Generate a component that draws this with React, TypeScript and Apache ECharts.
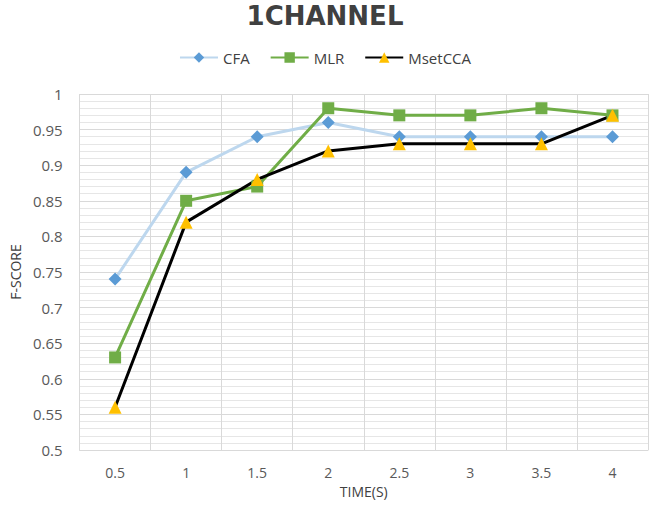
import React, { useEffect, useRef } from "react";
import * as echarts from "echarts";

const categories = ["0.5", "1", "1.5", "2", "2.5", "3", "3.5", "4"];
const cfa = [0.74, 0.89, 0.94, 0.96, 0.94, 0.94, 0.94, 0.94];
const mlr = [0.63, 0.85, 0.87, 0.98, 0.97, 0.97, 0.98, 0.97];
const msetcca = [0.56, 0.82, 0.88, 0.92, 0.93, 0.93, 0.93, 0.97];

export default function App() {
  const ref = useRef<HTMLDivElement>(null);
  useEffect(() => {
    if (!ref.current) return;
    const chart = echarts.init(ref.current, undefined, { renderer: "svg" });
    const font = "Open Sans";
    chart.setOption({
      animation: false,
      backgroundColor: "#fff",
      title: {
        text: "1CHANNEL",
        left: "center",
        top: -2,
        textStyle: { fontFamily: "DejaVu Sans", fontSize: 26, fontWeight: "bold", color: "#404040" },
      },
      legend: {
        top: 45,
        left: "center",
        itemWidth: 38,
        itemHeight: 13,
        itemGap: 20,
        textStyle: { fontFamily: font, fontSize: 15, color: "#404040" },
        data: ["CFA", "MLR", "MsetCCA"],
      },
      grid: { left: 68, right: 2, top: 94, bottom: 55 },
      xAxis: {
        type: "category",
        data: categories,
        boundaryGap: true,
        name: "TIME(S)",
        nameLocation: "middle",
        nameGap: 34,
        nameTextStyle: { fontFamily: font, fontSize: 14, color: "#404040" },
        axisLine: { show: true, lineStyle: { color: "#D9D9D9" } },
        axisTick: { show: false },
        axisLabel: { fontFamily: font, fontSize: 14, color: "#595959", margin: 15 },
        splitLine: { show: true, interval: 0, lineStyle: { color: "#D9D9D9" } },
      },
      yAxis: {
        type: "value",
        min: 0.5,
        max: 1,
        interval: 0.05,
        name: "F-SCORE",
        nameLocation: "middle",
        nameGap: 55,
        nameTextStyle: { fontFamily: font, fontSize: 14, color: "#404040" },
        axisLine: { show: false },
        axisTick: { show: false },
        axisLabel: { fontFamily: font, fontSize: 15, color: "#595959", margin: 17 },
        splitLine: { show: true, lineStyle: { color: "#D9D9D9" } },
        minorTick: { show: false, splitNumber: 5 },
        minorSplitLine: { show: true, lineStyle: { color: "#E6E6E6" } },
      },
      series: [
        {
          name: "CFA",
          type: "line",
          data: cfa,
          symbol: "diamond",
          symbolSize: 13,
          lineStyle: { color: "#BDD7EE", width: 3 },
          itemStyle: { color: "#5B9BD5" },
        },
        {
          name: "MLR",
          type: "line",
          data: mlr,
          symbol: "rect",
          symbolSize: 12,
          lineStyle: { color: "#70AD47", width: 3 },
          itemStyle: { color: "#70AD47" },
        },
        {
          name: "MsetCCA",
          type: "line",
          data: msetcca,
          symbol: "triangle",
          symbolSize: 13,
          lineStyle: { color: "#000000", width: 3 },
          itemStyle: { color: "#FFC000" },
        },
      ],
    });
    return () => chart.dispose();
  }, []);
  return (
    <div
      ref={ref}
      style={{ position: "fixed", left: 0, top: 0, width: 650, height: 505 }}
    />
  );
}
